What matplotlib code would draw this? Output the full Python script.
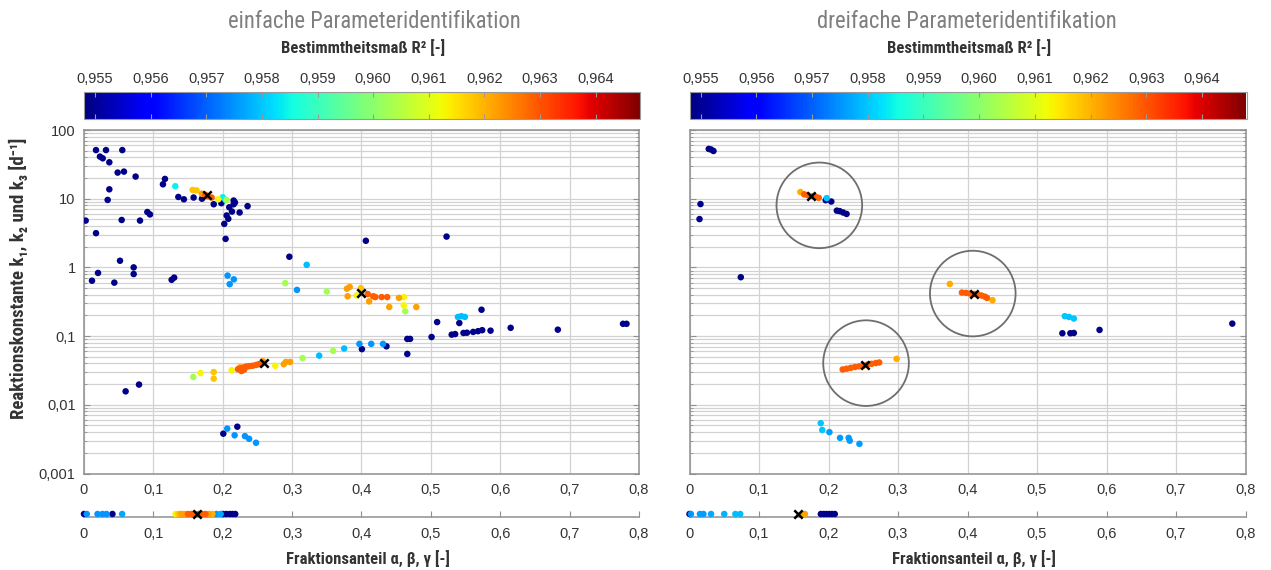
import matplotlib
matplotlib.use("Agg")
import matplotlib.pyplot as plt
import numpy as np
from matplotlib import font_manager
from matplotlib.colors import Normalize
from matplotlib.cm import ScalarMappable
from matplotlib.ticker import LogLocator, NullFormatter

installed = {f.name for f in font_manager.fontManager.ttflist}
NARROW = None
for cand in ("Liberation Sans Narrow", "Roboto Condensed", "Arial Narrow"):
    if cand in installed:
        NARROW = cand
        break
if NARROW:
    HEAD_FONT, TITLE_SIZE, LABEL_SIZE, YLABEL_SIZE = NARROW, 16.3, 12.0, 13.5
else:
    HEAD_FONT, TITLE_SIZE, LABEL_SIZE, YLABEL_SIZE = "Liberation Sans", 14.7, 10.3, 11.5
plt.rcParams["font.family"] = ["Liberation Sans", "DejaVu Sans"]

# ---------------------------------------------------------------- data
R2_MIN, R2_MAX = 0.9548, 0.9648
cbar_ticks = [0.955, 0.956, 0.957, 0.958, 0.959, 0.960, 0.961, 0.962, 0.963, 0.964]
frac_ticks = [0.0, 0.1, 0.2, 0.3, 0.4, 0.5, 0.6, 0.7, 0.8]
k_ticks = [100, 10, 1, 0.1, 0.01, 0.001]
k_labels = ["100", "10", "1", "0,1", "0,01", "0,001"]

# single identification: fraction, rate constant, coefficient of determination
left_frac = [
    0.0024, 0.0115, 0.0173, 0.0173, 0.0202, 0.023, 0.027, 0.0317, 0.0341, 0.0365,
    0.0365, 0.0437, 0.0485, 0.0519, 0.0543, 0.0552, 0.0576, 0.0716, 0.0716, 0.0744,
    0.0807, 0.0913, 0.0951, 0.1138, 0.1167, 0.1263, 0.130, 0.136, 0.144, 0.158,
    0.170, 0.187, 0.198, 0.2157, 0.2176, 0.2157, 0.2094, 0.2133, 0.2243, 0.2358,
    0.2056, 0.208, 0.2022, 0.2041, 0.296, 0.4063, 0.5226, 0.573, 0.509, 0.541,
    0.615, 0.683, 0.777, 0.782, 0.530, 0.535, 0.547, 0.552, 0.561, 0.568,
    0.574, 0.586, 0.466, 0.470, 0.501, 0.466, 0.4006, 0.436, 0.060, 0.0793,
    0.2008, 0.221,
    0.207, 0.216, 0.210, 0.307, 0.397, 0.414, 0.431, 0.2065, 0.2171, 0.232, 0.238, 0.248,
    0.539, 0.544, 0.549, 0.321, 0.339, 0.375,
    0.1316, 0.200, 0.204,
    0.290, 0.350, 0.2056, 0.1575, 0.315, 0.359, 0.463,
    0.1936, 0.168, 0.2128, 0.2757, 0.393, 0.461, 0.461,
    0.1566, 0.1623, 0.187, 0.187, 0.399,
    0.170, 0.2248, 0.258, 0.288, 0.291, 0.297, 0.379, 0.383, 0.380, 0.411, 0.440, 0.454, 0.479,
    0.175, 0.179, 0.184, 0.409, 0.417, 0.420, 0.429, 0.437,
    0.222, 0.226, 0.230, 0.234, 0.238, 0.243, 0.248, 0.252, 0.256, 0.227, 0.231,
]
left_k = [
    4.8, 0.64, 51, 3.15, 0.83, 41, 38.7, 51, 9.6, 33.9,
    13.7, 0.60, 24, 1.25, 4.9, 51, 24.8, 1.0, 0.80, 21,
    4.8, 6.4, 5.9, 16.2, 19.4, 0.66, 0.71, 10.6, 9.8, 10.4,
    10.0, 8.3, 8.6, 9.4, 8.8, 8.3, 7.5, 6.5, 6.3, 7.8,
    5.7, 5.1, 4.3, 2.6, 1.43, 2.44, 2.81, 0.242, 0.160, 0.155,
    0.132, 0.124, 0.151, 0.151, 0.105, 0.107, 0.111, 0.112, 0.115, 0.118,
    0.122, 0.120, 0.091, 0.091, 0.097, 0.055, 0.0646, 0.071, 0.0157, 0.0197,
    0.0038, 0.0048,
    0.76, 0.67, 0.57, 0.47, 0.077, 0.077, 0.077, 0.0045, 0.0036, 0.0035, 0.0032, 0.0028,
    0.19, 0.195, 0.19, 1.09, 0.052, 0.066,
    15.2, 10.5, 9.6,
    0.59, 0.445, 9.6, 0.0254, 0.048, 0.061, 0.23,
    9.8, 0.029, 0.0318, 0.037, 0.39, 0.37, 0.28,
    13.4, 13.2, 0.030, 0.024, 0.50,
    11.8, 0.035, 0.043, 0.039, 0.042, 0.042, 0.49, 0.52, 0.38, 0.32, 0.265, 0.36, 0.265,
    11.4, 10.8, 10.4, 0.41, 0.38, 0.37, 0.37, 0.37,
    0.033, 0.034, 0.035, 0.036, 0.0365, 0.037, 0.038, 0.039, 0.040, 0.031, 0.0325,
]
left_r2 = (
    [0.9549] * 72
    + [0.9575] * 12
    + [0.9579] * 6
    + [0.9584] * 3
    + [0.9603] * 7
    + [0.9613] * 7
    + [0.9618] * 5
    + [0.9622] * 13
    + [0.9629] * 8
    + [0.9629] * 11
)
left_best_frac = [0.1768, 0.400, 0.2598]
left_best_k = [11.2, 0.42, 0.0406]

left_strip_frac = [0.0, 0.004, 0.0195, 0.0266, 0.0325, 0.055, 0.041,
                   0.132, 0.136, 0.140, 0.145, 0.150, 0.155, 0.160, 0.165, 0.170, 0.175,
                   0.180, 0.185, 0.191, 0.197, 0.200, 0.205, 0.210, 0.214, 0.218]
left_strip_r2 = [0.9549, 0.9575, 0.9575, 0.9575, 0.9575, 0.9577, 0.9549,
                 0.9613, 0.9618, 0.9622, 0.9622, 0.9629, 0.9629, 0.9629, 0.9629, 0.9629, 0.9629,
                 0.9622, 0.9620, 0.9575, 0.9577, 0.9549, 0.9549, 0.9549, 0.9549, 0.9549]
left_strip_best = 0.1625

# triple identification
right_frac = [
    0.0277, 0.031, 0.0345, 0.0158, 0.0144, 0.0738, 0.196, 0.204, 0.212, 0.216,
    0.221, 0.226, 0.5365, 0.548, 0.553, 0.590, 0.781,
    0.540, 0.546, 0.553, 0.1974, 0.1888, 0.191,
    0.2013, 0.2166, 0.229, 0.2306, 0.2445,
    0.1595, 0.3746, 0.436, 0.298,
    0.165, 0.170, 0.178, 0.182, 0.186,
    0.392, 0.398, 0.404, 0.410, 0.415, 0.420, 0.425, 0.428,
    0.2204, 0.226, 0.232, 0.238, 0.244, 0.250, 0.256, 0.262, 0.268, 0.273,
]
right_k = [
    53, 52, 49.5, 8.35, 5.05, 0.72, 9.5, 9.1, 6.7, 6.6,
    6.3, 6.0, 0.11, 0.11, 0.111, 0.123, 0.152,
    0.195, 0.19, 0.18, 10.2, 0.0054, 0.0043,
    0.0040, 0.0033, 0.0033, 0.0030, 0.0027,
    12.5, 0.574, 0.333, 0.0467,
    11.6, 11.3, 10.9, 10.6, 10.3,
    0.43, 0.425, 0.415, 0.41, 0.40, 0.39, 0.375, 0.36,
    0.0327, 0.0335, 0.0345, 0.0355, 0.0363, 0.037, 0.0385, 0.0395, 0.0405, 0.0413,
]
right_r2 = (
    [0.9549] * 17
    + [0.9580] * 6
    + [0.9576] * 5
    + [0.9621] * 4
    + [0.9629] * 5
    + [0.9629] * 8
    + [0.9629] * 10
)
right_best_frac = [0.1749, 0.4095, 0.253]
right_best_k = [10.8, 0.405, 0.0374]
right_ring_frac = [0.1868, 0.4076, 0.254]
right_ring_k = [8.0, 0.416, 0.0404]

right_strip_frac = [0.0, 0.002, 0.015, 0.020, 0.031, 0.050, 0.066, 0.073,
                    0.163, 0.166, 0.189, 0.193, 0.197, 0.201, 0.205, 0.209]
right_strip_r2 = [0.9549, 0.9575, 0.9576, 0.9576, 0.9577, 0.9578, 0.9579, 0.9579,
                  0.9622, 0.9622, 0.9549, 0.9549, 0.9549, 0.9549, 0.9549, 0.9549]
right_strip_best = 0.156

# ---------------------------------------------------------------- style
W, H = 1271, 570
GRID = "#d2d2d2"
SPINE = "#8f8f8f"
TXT = "#333333"
cmap = plt.get_cmap("jet")
norm = Normalize(vmin=R2_MIN, vmax=R2_MAX)


def comma(v, fmt):
    return format(v, fmt).replace(".", ",")


def box(x0, y0, x1, y1):
    """pixel box (top-left origin) -> figure fraction rect"""
    return [x0 / W, 1 - y1 / H, (x1 - x0) / W, (y1 - y0) / H]


fig = plt.figure(figsize=(W / 100, H / 100), dpi=100)


def panel(x0, x1, title, title_x, frac, k, r2, best_f, best_k, s_frac, s_r2, s_best,
          show_y, rings=None):
    xc = (x0 + x1) / 2
    fig.text(title_x / W, 1 - 21 / H, title, ha="center", va="center",
             fontsize=TITLE_SIZE, color="#7f7f7f", family=[HEAD_FONT, "DejaVu Sans"])
    fig.text((xc + 2) / W, 1 - 48 / H, "Bestimmtheitsmaß R² [-]", ha="center", va="center",
             fontsize=LABEL_SIZE, fontweight="bold", color=TXT,
             family=[HEAD_FONT, "DejaVu Sans"])

    # colour bar
    cax = fig.add_axes(box(x0, 92.5, x1 + 1, 119))
    cb = fig.colorbar(ScalarMappable(norm=norm, cmap=cmap), cax=cax,
                      orientation="horizontal", ticklocation="top")
    cb.set_ticks(cbar_ticks)
    cb.set_ticklabels([comma(t, ".3f") for t in cbar_ticks])
    cax.tick_params(axis="x", which="both", top=True, bottom=True, labelbottom=False,
                    direction="in", length=3.5, width=0.8, color="#9a9a9a",
                    labelsize=10.5, labelcolor=TXT, pad=5)
    cax.xaxis.set_minor_locator(plt.NullLocator())
    cb.outline.set_edgecolor("#9a9a9a")
    cb.outline.set_linewidth(0.8)

    # main scatter
    ax = fig.add_axes(box(x0, 130, x1, 473.5))
    ax.set_yscale("log")
    ax.set_xlim(0, 0.8)
    ax.set_ylim(0.001, 100)
    ax.set_xticks(frac_ticks)
    ax.set_xticklabels([comma(t, "g") if t else "0" for t in frac_ticks])
    ax.set_yticks(k_ticks)
    ax.yaxis.set_minor_locator(LogLocator(base=10, subs=np.arange(2, 10)))
    ax.yaxis.set_minor_formatter(NullFormatter())
    if show_y:
        ax.set_yticklabels(k_labels)
    else:
        ax.set_yticklabels([])
    ax.grid(True, which="major", axis="both", color=GRID, lw=0.9)
    ax.grid(True, which="minor", axis="y", color=GRID, lw=0.9)
    ax.set_axisbelow(True)
    for sp in ax.spines.values():
        sp.set_color(SPINE)
        sp.set_linewidth(1.1)
    ax.tick_params(axis="both", which="both", direction="in", color=SPINE,
                   labelsize=10.5, labelcolor=TXT, left=True, right=True, top=False)
    ax.tick_params(axis="y", which="major", length=4)
    ax.tick_params(axis="y", which="minor", length=2.5)
    ax.tick_params(axis="x", length=0, pad=7)
    ax.tick_params(axis="y", pad=6)

    order = np.argsort(r2, kind="stable")
    fr = np.asarray(frac)[order]
    kk = np.asarray(k)[order]
    rr = np.asarray(r2)[order]
    ax.scatter(fr, kk, c=rr, cmap=cmap, norm=norm, s=22, linewidths=0, zorder=3)
    ax.scatter(best_f, best_k, marker="x", s=36, c="black", linewidths=1.8, zorder=5)
    if rings is not None:
        ax.scatter(rings[0], rings[1], marker="o", s=3800, facecolors="none",
                   edgecolors="#6e6e6e", linewidths=1.3, zorder=4)

    # strip with the inert fraction
    sax = fig.add_axes(box(x0, 505, x1, 517))
    sax.set_xlim(0, 0.8)
    sax.set_ylim(0, 1)
    for name in ("top", "left", "right"):
        sax.spines[name].set_visible(False)
    sax.spines["bottom"].set_color(SPINE)
    sax.spines["bottom"].set_linewidth(1.1)
    sax.set_yticks([])
    sax.set_xticks(frac_ticks)
    sax.set_xticklabels([comma(t, "g") if t else "0" for t in frac_ticks])
    sax.tick_params(axis="x", direction="in", length=4, color=SPINE, labelsize=10.5,
                    labelcolor=TXT, pad=7)
    sax.patch.set_visible(False)
    order = np.argsort(s_r2, kind="stable")
    sf = np.asarray(s_frac)[order]
    sr = np.asarray(s_r2)[order]
    sax.scatter(sf, np.full(len(sf), 0.25), c=sr, cmap=cmap, norm=norm, s=22,
                linewidths=0, clip_on=False, zorder=3)
    sax.scatter([s_best], [0.25], marker="x", s=36, c="black", linewidths=1.8,
                clip_on=False, zorder=5)

    fig.text((xc + 6) / W, 1 - 559 / H, "Fraktionsanteil α, β, γ [-]", ha="center",
             va="center", fontsize=LABEL_SIZE, fontweight="bold", color=TXT,
             family=[HEAD_FONT, "DejaVu Sans"])
    return ax


panel(84, 639, "einfache Parameteridentifikation", 374,
      left_frac, left_k, left_r2, left_best_frac, left_best_k,
      left_strip_frac, left_strip_r2, left_strip_best, True)
panel(689.5, 1245.5, "dreifache Parameteridentifikation", 967,
      right_frac, right_k, right_r2, right_best_frac, right_best_k,
      right_strip_frac, right_strip_r2, right_strip_best, False,
      rings=(right_ring_frac, right_ring_k))

fig.text(18 / W, 1 - 278 / H, "Reaktionskonstante k₁, k₂ und k₃ [d⁻¹]", rotation=90,
         ha="center", va="center", fontsize=YLABEL_SIZE, fontweight="bold", color=TXT,
         family=[HEAD_FONT, "DejaVu Sans"])

fig.savefig("out.png", dpi=100)
